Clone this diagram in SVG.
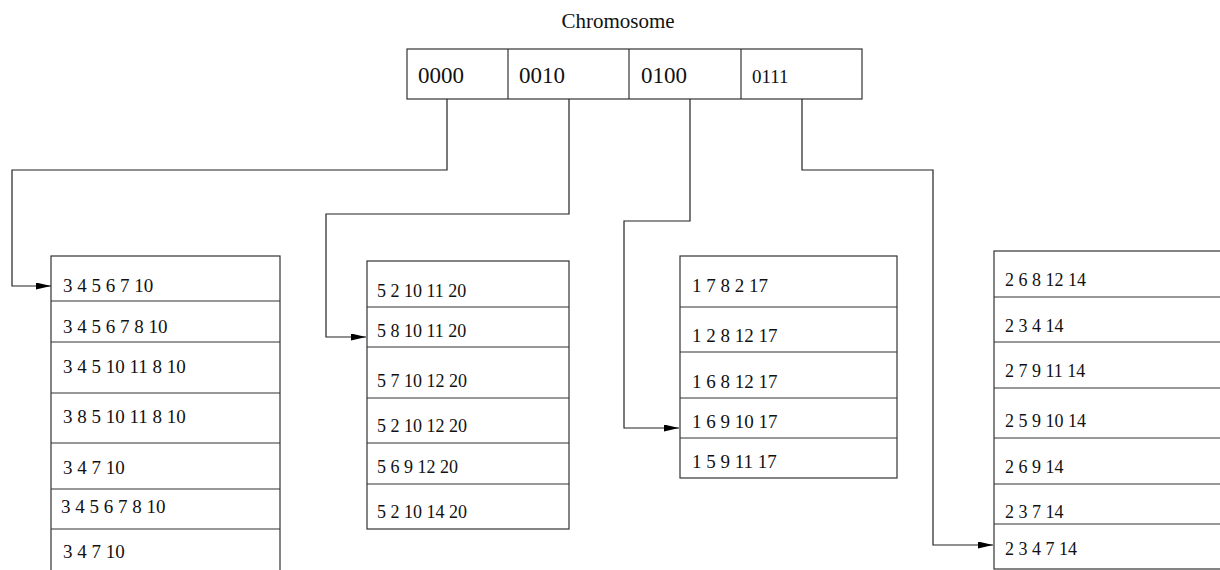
<svg xmlns="http://www.w3.org/2000/svg" width="1220" height="570" viewBox="0 0 1220 570">
<style>
  .bx{fill:#fff;stroke:#333;stroke-width:1.2}
  .ln{stroke:#333;stroke-width:1.2;fill:none}
  .t{font-family:"Liberation Serif","DejaVu Serif",serif;font-size:19px;fill:#111}
  .t2{font-family:"Liberation Serif","DejaVu Serif",serif;font-size:18px;fill:#111}
  .h{font-family:"Liberation Serif","DejaVu Serif",serif;font-size:23px;fill:#111}
  .c{stroke:#222;stroke-width:1.2;fill:none;marker-end:url(#ah)}
</style>
<defs>
  <marker id="ah" viewBox="0 0 15 7" refX="15" refY="3.5" markerWidth="15" markerHeight="7" markerUnits="userSpaceOnUse" orient="auto">
    <path d="M0,0 L15,3.5 L0,7 z" fill="#000"/>
  </marker>
</defs>
<rect width="1220" height="570" fill="#fff"/>
<text x="618" y="28" text-anchor="middle" style="font-family:'Liberation Serif','DejaVu Serif',serif;font-size:21px;fill:#111">Chromosome</text>
<g id="chromosome">
  <rect class="bx" x="407" y="49" width="455" height="50"/>
  <line class="ln" x1="508" y1="49" x2="508" y2="99"/>
  <line class="ln" x1="629" y1="49" x2="629" y2="99"/>
  <line class="ln" x1="741" y1="49" x2="741" y2="99"/>
  <text class="h" x="418" y="83">0000</text>
  <text class="h" x="519" y="83">0010</text>
  <text class="h" x="641" y="83">0100</text>
  <text class="h" x="752" y="83" style="font-size:19px">0111</text>
</g>
<g id="connectors">
  <polyline class="c" points="447,99 447,170 12,170 12,286 51,286"/>
  <polyline class="c" points="569,99 569,214 326,214 326,337 366,337"/>
  <polyline class="c" points="690,99 690,221 624,221 624,428 679,428"/>
  <polyline class="c" points="802,99 802,170 933,170 933,545 993,545"/>
</g>
<g id="list1">
  <rect class="bx" x="51" y="256" width="229" height="330"/>
  <line class="ln" x1="51" y1="301" x2="280" y2="301"/>
  <line class="ln" x1="51" y1="342" x2="280" y2="342"/>
  <line class="ln" x1="51" y1="393" x2="280" y2="393"/>
  <line class="ln" x1="51" y1="443" x2="280" y2="443"/>
  <line class="ln" x1="51" y1="489" x2="280" y2="489"/>
  <line class="ln" x1="51" y1="529" x2="280" y2="529"/>
  <text class="t" x="63" y="292">3 4 5 6 7 10</text>
  <text class="t" x="63" y="333">3 4 5 6 7 8 10</text>
  <text class="t" x="63" y="373">3 4 5 10 11 8 10</text>
  <text class="t" x="63" y="423">3 8 5 10 11 8 10</text>
  <text class="t" x="63" y="474">3 4 7 10</text>
  <text class="t" x="61" y="513">3 4 5 6 7 8 10</text>
  <text class="t" x="63" y="558">3 4 7 10</text>
</g>
<g id="list2">
  <rect class="bx" x="367" y="261" width="202" height="268"/>
  <line class="ln" x1="367" y1="307" x2="569" y2="307"/>
  <line class="ln" x1="367" y1="347" x2="569" y2="347"/>
  <line class="ln" x1="367" y1="398" x2="569" y2="398"/>
  <line class="ln" x1="367" y1="443" x2="569" y2="443"/>
  <line class="ln" x1="367" y1="484" x2="569" y2="484"/>
  <text class="t2" x="377" y="297">5 2 10 11 20</text>
  <text class="t2" x="377" y="337">5 8 10 11 20</text>
  <text class="t2" x="377" y="387">5 7 10 12 20</text>
  <text class="t2" x="377" y="432">5 2 10 12 20</text>
  <text class="t2" x="377" y="473">5 6 9 12 20</text>
  <text class="t2" x="377" y="518">5 2 10 14 20</text>
</g>
<g id="list3">
  <rect class="bx" x="680" y="256" width="217" height="222"/>
  <line class="ln" x1="680" y1="307" x2="897" y2="307"/>
  <line class="ln" x1="680" y1="352" x2="897" y2="352"/>
  <line class="ln" x1="680" y1="398" x2="897" y2="398"/>
  <line class="ln" x1="680" y1="438" x2="897" y2="438"/>
  <text class="t" x="692" y="292">1 7 8 2 17</text>
  <text class="t" x="692" y="342">1 2 8 12 17</text>
  <text class="t" x="692" y="388">1 6 8 12 17</text>
  <text class="t" x="692" y="428">1 6 9 10 17</text>
  <text class="t" x="692" y="468">1 5 9 11 17</text>
</g>
<g id="list4">
  <rect class="bx" x="994" y="251" width="260" height="318"/>
  <line class="ln" x1="994" y1="297" x2="1220" y2="297"/>
  <line class="ln" x1="994" y1="342" x2="1220" y2="342"/>
  <line class="ln" x1="994" y1="388" x2="1220" y2="388"/>
  <line class="ln" x1="994" y1="438" x2="1220" y2="438"/>
  <line class="ln" x1="994" y1="484" x2="1220" y2="484"/>
  <line class="ln" x1="994" y1="524" x2="1220" y2="524"/>
  <text class="t2" x="1005" y="286">2 6 8 12 14</text>
  <text class="t2" x="1005" y="332">2 3 4 14</text>
  <text class="t2" x="1005" y="377">2 7 9 11 14</text>
  <text class="t2" x="1005" y="427">2 5 9 10 14</text>
  <text class="t2" x="1005" y="473">2 6 9 14</text>
  <text class="t2" x="1005" y="518">2 3 7 14</text>
  <text class="t2" x="1005" y="555">2 3 4 7 14</text>
</g>
</svg>
